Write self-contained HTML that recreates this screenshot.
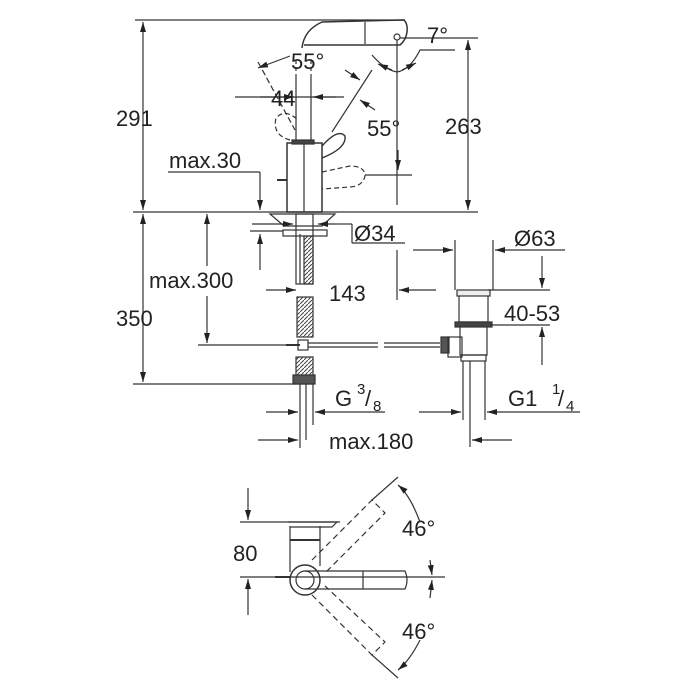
<!DOCTYPE html>
<html><head><meta charset="utf-8"><style>
html,body{margin:0;padding:0;background:#fff;}
svg{display:block;}
text{font-family:"Liberation Sans",sans-serif;fill:#222;}
</style></head><body>
<svg width="700" height="700" viewBox="0 0 700 700" xmlns="http://www.w3.org/2000/svg">
<defs>
<marker id="a" viewBox="0 0 10 10" refX="10" refY="5" markerWidth="10" markerHeight="10" orient="auto-start-reverse" markerUnits="userSpaceOnUse"><path d="M0,2 L10,5 L0,8 z" fill="#222"/></marker>
<pattern id="h" width="4" height="4" patternUnits="userSpaceOnUse"><path d="M0,4 L4,0" stroke="#444" stroke-width="1"/></pattern>
</defs>
<g stroke="#333" stroke-width="1.2" fill="none">
<line x1="135" y1="20" x2="405" y2="20"/>
<line x1="133" y1="212" x2="478" y2="212"/>
<line x1="143" y1="22" x2="143" y2="210" marker-start="url(#a)" marker-end="url(#a)"/>
<line x1="468" y1="40" x2="468" y2="210" marker-start="url(#a)" marker-end="url(#a)"/>
<line x1="400" y1="38" x2="478" y2="38"/>
<path d="M302,48 Q304,30 322,22 L404,20 Q408,24 407,32 Q406,40 400,45 L304,45" stroke-width="1.5"/>
<line x1="365" y1="22" x2="365" y2="44"/>
<circle cx="397" cy="37" r="3"/>
<line x1="397" y1="40" x2="397" y2="205"/>
<path d="M372,55 Q385,70 397,72 Q410,70 420,50 L455,50"/>
<path d="M392,70 L378,64" marker-end="url(#a)"/>
<path d="M402,70 L416,63" marker-end="url(#a)"/>
<line x1="258" y1="62" x2="295" y2="130" stroke-dasharray="6,3"/>
<path d="M258,68 L290,56" marker-start="url(#a)"/>
<line x1="296" y1="75" x2="296" y2="143"/>
<line x1="311" y1="75" x2="311" y2="143"/>
<line x1="296" y1="60" x2="296" y2="75" stroke-dasharray="4,3"/>
<line x1="311" y1="60" x2="311" y2="75" stroke-dasharray="4,3"/>
<line x1="235" y1="97" x2="344" y2="97"/>
<line x1="260" y1="97" x2="294" y2="97" marker-end="url(#a)"/>
<line x1="336" y1="97" x2="313" y2="97" marker-end="url(#a)"/>
<line x1="332" y1="132" x2="372" y2="70"/>
<line x1="345" y1="70" x2="360" y2="80" marker-end="url(#a)"/>
<line x1="375" y1="110" x2="360" y2="100" marker-end="url(#a)"/>
<path d="M398,150 L398,170" marker-end="url(#a)"/>
<path d="M290,140 Q272,135 276,118 Q285,108 298,120" stroke-dasharray="5,3"/>
<path d="M322,172 L350,166 Q365,166 365,176 Q363,186 350,187 L322,189" stroke-dasharray="5,3"/>
<line x1="365" y1="175" x2="412" y2="175"/>
<rect x="287" y="143" width="35" height="69" stroke-width="1.5"/>
<line x1="304" y1="143" x2="304" y2="212"/>
<rect x="292" y="140" width="22" height="4" fill="#444"/>
<path d="M322,146 Q338,128 345,136 Q347,148 322,158" stroke-width="1.4"/>
<line x1="277" y1="180" x2="287" y2="180" stroke-width="2"/>
<line x1="168" y1="172" x2="260" y2="172"/>
<line x1="260" y1="172" x2="260" y2="210" marker-end="url(#a)"/>
<path d="M270,214 L335,214 L322,226 L284,226 Z"/>
<rect x="283" y="230" width="44" height="6"/>
<line x1="252" y1="224" x2="293" y2="224" marker-end="url(#a)"/>
<line x1="336" y1="224" x2="318" y2="224" marker-end="url(#a)"/>
<line x1="336" y1="224" x2="352" y2="224"/>
<line x1="352" y1="224" x2="352" y2="243"/>
<line x1="352" y1="243" x2="405" y2="243"/>
<line x1="250" y1="231" x2="283" y2="231"/>
<line x1="260" y1="270" x2="260" y2="234" marker-end="url(#a)"/>
<rect x="296" y="214" width="17" height="70"/>
<rect x="304" y="236" width="9" height="48" fill="url(#h)"/>
<line x1="300" y1="234" x2="300" y2="284"/>
<rect x="297" y="297" width="16" height="40" fill="url(#h)"/>
<rect x="296" y="357" width="17" height="27" fill="url(#h)"/>
<rect x="293" y="375" width="22" height="9" fill="#555"/>
<line x1="300" y1="384" x2="300" y2="425"/>
<line x1="306" y1="384" x2="306" y2="440"/>
<line x1="313" y1="384" x2="313" y2="425"/>
<line x1="207" y1="214" x2="207" y2="266" marker-start="url(#a)"/>
<line x1="207" y1="296" x2="207" y2="343" marker-end="url(#a)"/>
<line x1="198" y1="345" x2="290" y2="345"/>
<line x1="133" y1="384" x2="296" y2="384"/>
<line x1="143" y1="214" x2="143" y2="382" marker-start="url(#a)" marker-end="url(#a)"/>
<line x1="266" y1="290" x2="296" y2="290" marker-end="url(#a)"/>
<line x1="397" y1="250" x2="397" y2="300"/>
<line x1="436" y1="290" x2="399" y2="290" marker-end="url(#a)"/>
<line x1="286" y1="345" x2="300" y2="345" stroke-width="2"/>
<rect x="298" y="340" width="10" height="10"/>
<line x1="308" y1="343" x2="378" y2="343"/>
<line x1="308" y1="347" x2="378" y2="347"/>
<line x1="384" y1="343" x2="440" y2="343"/>
<line x1="384" y1="347" x2="440" y2="347"/>
<rect x="441" y="337" width="8" height="16" fill="#555"/>
<rect x="457" y="290" width="33" height="6" fill="#eee"/>
<path d="M459,296 L459,322 L488,322 L488,296"/>
<rect x="455" y="322" width="37" height="5" fill="#444"/>
<path d="M460,327 L460,355 L487,355 L487,327"/>
<rect x="448" y="337" width="14" height="20"/>
<rect x="461" y="355" width="25" height="6"/>
<line x1="463" y1="361" x2="463" y2="420"/>
<line x1="485" y1="361" x2="485" y2="420"/>
<line x1="470" y1="361" x2="470" y2="447"/>
<line x1="455" y1="240" x2="455" y2="290"/>
<line x1="493" y1="240" x2="493" y2="290"/>
<line x1="413" y1="250" x2="453" y2="250" marker-end="url(#a)"/>
<line x1="565" y1="250" x2="495" y2="250" marker-end="url(#a)"/>
<line x1="488" y1="290" x2="550" y2="290"/>
<line x1="490" y1="325" x2="550" y2="325"/>
<line x1="542" y1="256" x2="542" y2="288" marker-end="url(#a)"/>
<line x1="542" y1="365" x2="542" y2="327" marker-end="url(#a)"/>
<line x1="266" y1="412" x2="298" y2="412" marker-end="url(#a)"/>
<line x1="385" y1="412" x2="315" y2="412" marker-end="url(#a)"/>
<line x1="419" y1="412" x2="461" y2="412" marker-end="url(#a)"/>
<line x1="580" y1="412" x2="487" y2="412" marker-end="url(#a)"/>
<line x1="258" y1="440" x2="298" y2="440" marker-end="url(#a)"/>
<line x1="300" y1="425" x2="300" y2="448"/>
<line x1="512" y1="440" x2="472" y2="440" marker-end="url(#a)"/>
<line x1="240" y1="522" x2="340" y2="522"/>
<line x1="248" y1="488" x2="248" y2="520" marker-end="url(#a)"/>
<line x1="240" y1="577" x2="445" y2="577"/>
<line x1="248" y1="615" x2="248" y2="579" marker-end="url(#a)"/>
<path d="M290,526 L290,572 M320,526 L320,566"/>
<path d="M288,522 L337,522 L332,527 L290,527"/>
<line x1="290" y1="540" x2="320" y2="540" stroke-width="2"/>
<circle cx="305" cy="580" r="15" stroke-width="1.5"/>
<circle cx="305" cy="580" r="9"/>
<path d="M305,571 L405,571 Q409,580 405,589 L305,589"/>
<line x1="363" y1="571" x2="363" y2="589"/>
<line x1="275" y1="577" x2="290" y2="577" stroke-width="2"/>
<path d="M312,560 L372,500 L385,513 L325,573" stroke-dasharray="6,4"/>
<path d="M312,595 L372,655 L385,642 L325,586" stroke-dasharray="6,4"/>
<line x1="372" y1="500" x2="398" y2="477"/>
<line x1="372" y1="655" x2="398" y2="678"/>
<path d="M420,522 Q410,495 398,485" marker-end="url(#a)"/>
<path d="M430,560 L432,575" marker-end="url(#a)"/>
<path d="M430,598 L432,580" marker-end="url(#a)"/>
<path d="M420,640 Q410,660 398,670" marker-end="url(#a)"/>
</g>
<g font-size="22">
<text x="116" y="126">291</text>
<text x="445" y="134">263</text>
<text x="427" y="43">7°</text>
<text x="291" y="69">55°</text>
<text x="271" y="106">44</text>
<text x="367" y="136">55°</text>
<text x="169" y="168">max.30</text>
<text x="354" y="241">Ø34</text>
<text x="514" y="246">Ø63</text>
<text x="329" y="301">143</text>
<text x="149" y="288">max.300</text>
<text x="116" y="326">350</text>
<text x="504" y="321">40-53</text>
<text x="335" y="406">G</text><text x="357" y="394" font-size="15">3</text><text x="365" y="406">/</text><text x="373" y="411" font-size="15">8</text>
<text x="508" y="406">G1</text><text x="552" y="394" font-size="15">1</text><text x="558" y="406">/</text><text x="566" y="411" font-size="15">4</text>
<text x="329" y="449">max.180</text>
<text x="233" y="561">80</text>
<text x="402" y="536">46°</text>
<text x="402" y="639">46°</text>
</g>
</svg>
</body></html>
